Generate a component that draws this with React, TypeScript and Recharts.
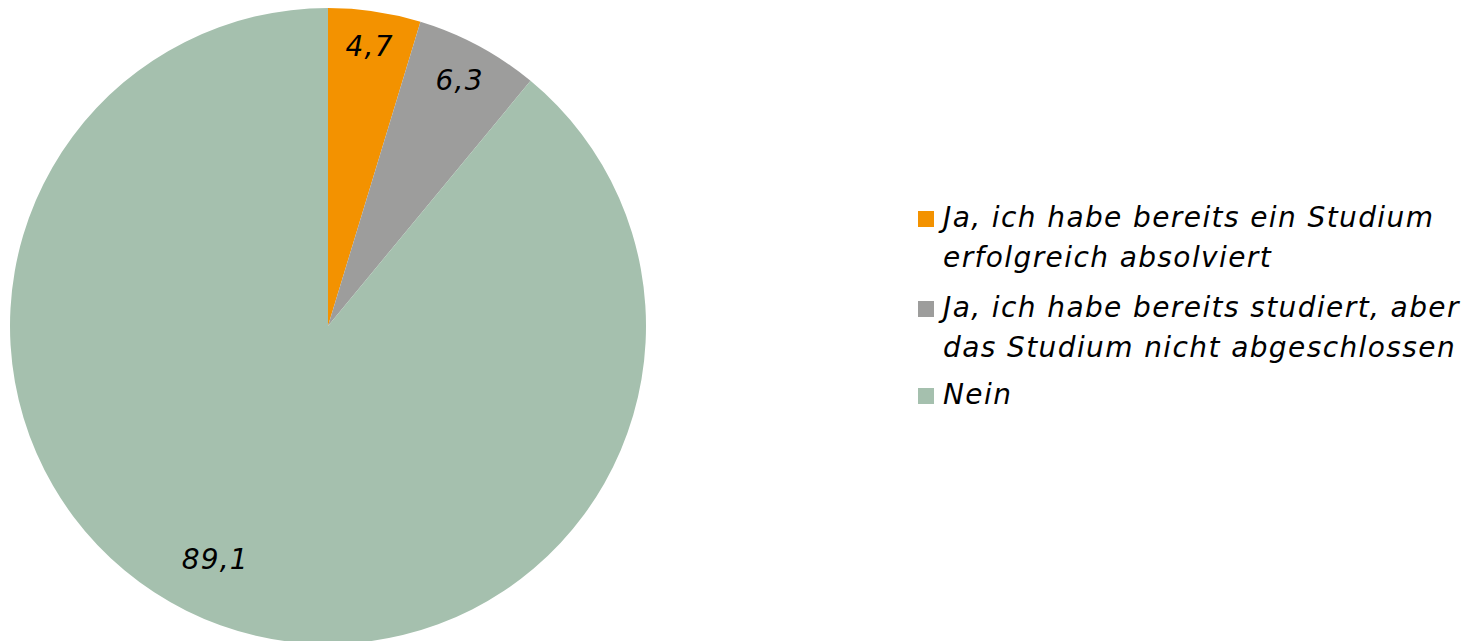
import React from "react";
import { PieChart, Pie, Cell, Legend } from "recharts";

const categories = [
  "Ja, ich habe bereits ein Studium erfolgreich absolviert",
  "Ja, ich habe bereits studiert, aber das Studium nicht abgeschlossen",
  "Nein",
];
const legendLines = [
  ["Ja, ich habe bereits ein Studium", "erfolgreich absolviert"],
  ["Ja, ich habe bereits studiert, aber", "das Studium nicht abgeschlossen"],
  ["Nein"],
];
const values = [4.7, 6.3, 89.1];
const valueLabels = ["4,7", "6,3", "89,1"];
const colors = ["#F39200", "#9D9D9C", "#A5C0AE"];
const labelRadiusFactor = [0.89, 0.875, 0.815];

const data = categories.map((name, i) => ({ name, value: values[i], label: valueLabels[i] }));

const FONT = "'DejaVu Sans', sans-serif";
const RADIAN = Math.PI / 180;

const renderLabel = (props: any) => {
  const { cx, cy, midAngle, outerRadius, index } = props;
  const r = outerRadius * labelRadiusFactor[index];
  const extra = index === 2 ? 6 : 0;
  const a = (midAngle - extra) * RADIAN;
  const x = cx + r * Math.cos(a);
  const y = cy - r * Math.sin(a);
  return (
    <text
      x={x}
      y={y}
      fill="#000"
      textAnchor="middle"
      dominantBaseline="central"
      style={{ fontFamily: FONT, fontStyle: "italic", fontSize: 28, letterSpacing: 1.2 }}
    >
      {valueLabels[index]}
    </text>
  );
};

const LegendContent = () => (
  <div style={{ fontFamily: FONT, fontStyle: "italic", fontSize: 28, letterSpacing: 1.4, color: "#000", width: 570 }}>
    {categories.map((c, i) => (
      <div key={c} style={{ display: "flex", alignItems: "flex-start", marginBottom: i === 1 ? 7 : 10, lineHeight: "40px" }}>
        <div
          style={{
            width: 16,
            height: 16,
            background: colors[i],
            marginTop: 13,
            marginRight: 9,
            flexShrink: 0,
          }}
        />
        <div style={{ whiteSpace: "nowrap" }}>
          {legendLines[i].map((l) => (
            <div key={l}>{l}</div>
          ))}
        </div>
      </div>
    ))}
  </div>
);

export default function App() {
  return (
    <PieChart width={1465} height={633}>
      <Pie
        data={data}
        dataKey="value"
        nameKey="name"
        cx={315}
        cy={313}
        outerRadius={318}
        startAngle={90}
        endAngle={-270}
        stroke="none"
        label={renderLabel}
        labelLine={false}
        isAnimationActive={false}
      >
        {data.map((d, i) => (
          <Cell key={d.name} fill={colors[i]} />
        ))}
      </Pie>
      <Legend
        layout="vertical"
        align="right"
        verticalAlign="top"
        content={<LegendContent />}
        wrapperStyle={{ left: 910, top: 190, width: 570 }}
      />
    </PieChart>
  );
}
